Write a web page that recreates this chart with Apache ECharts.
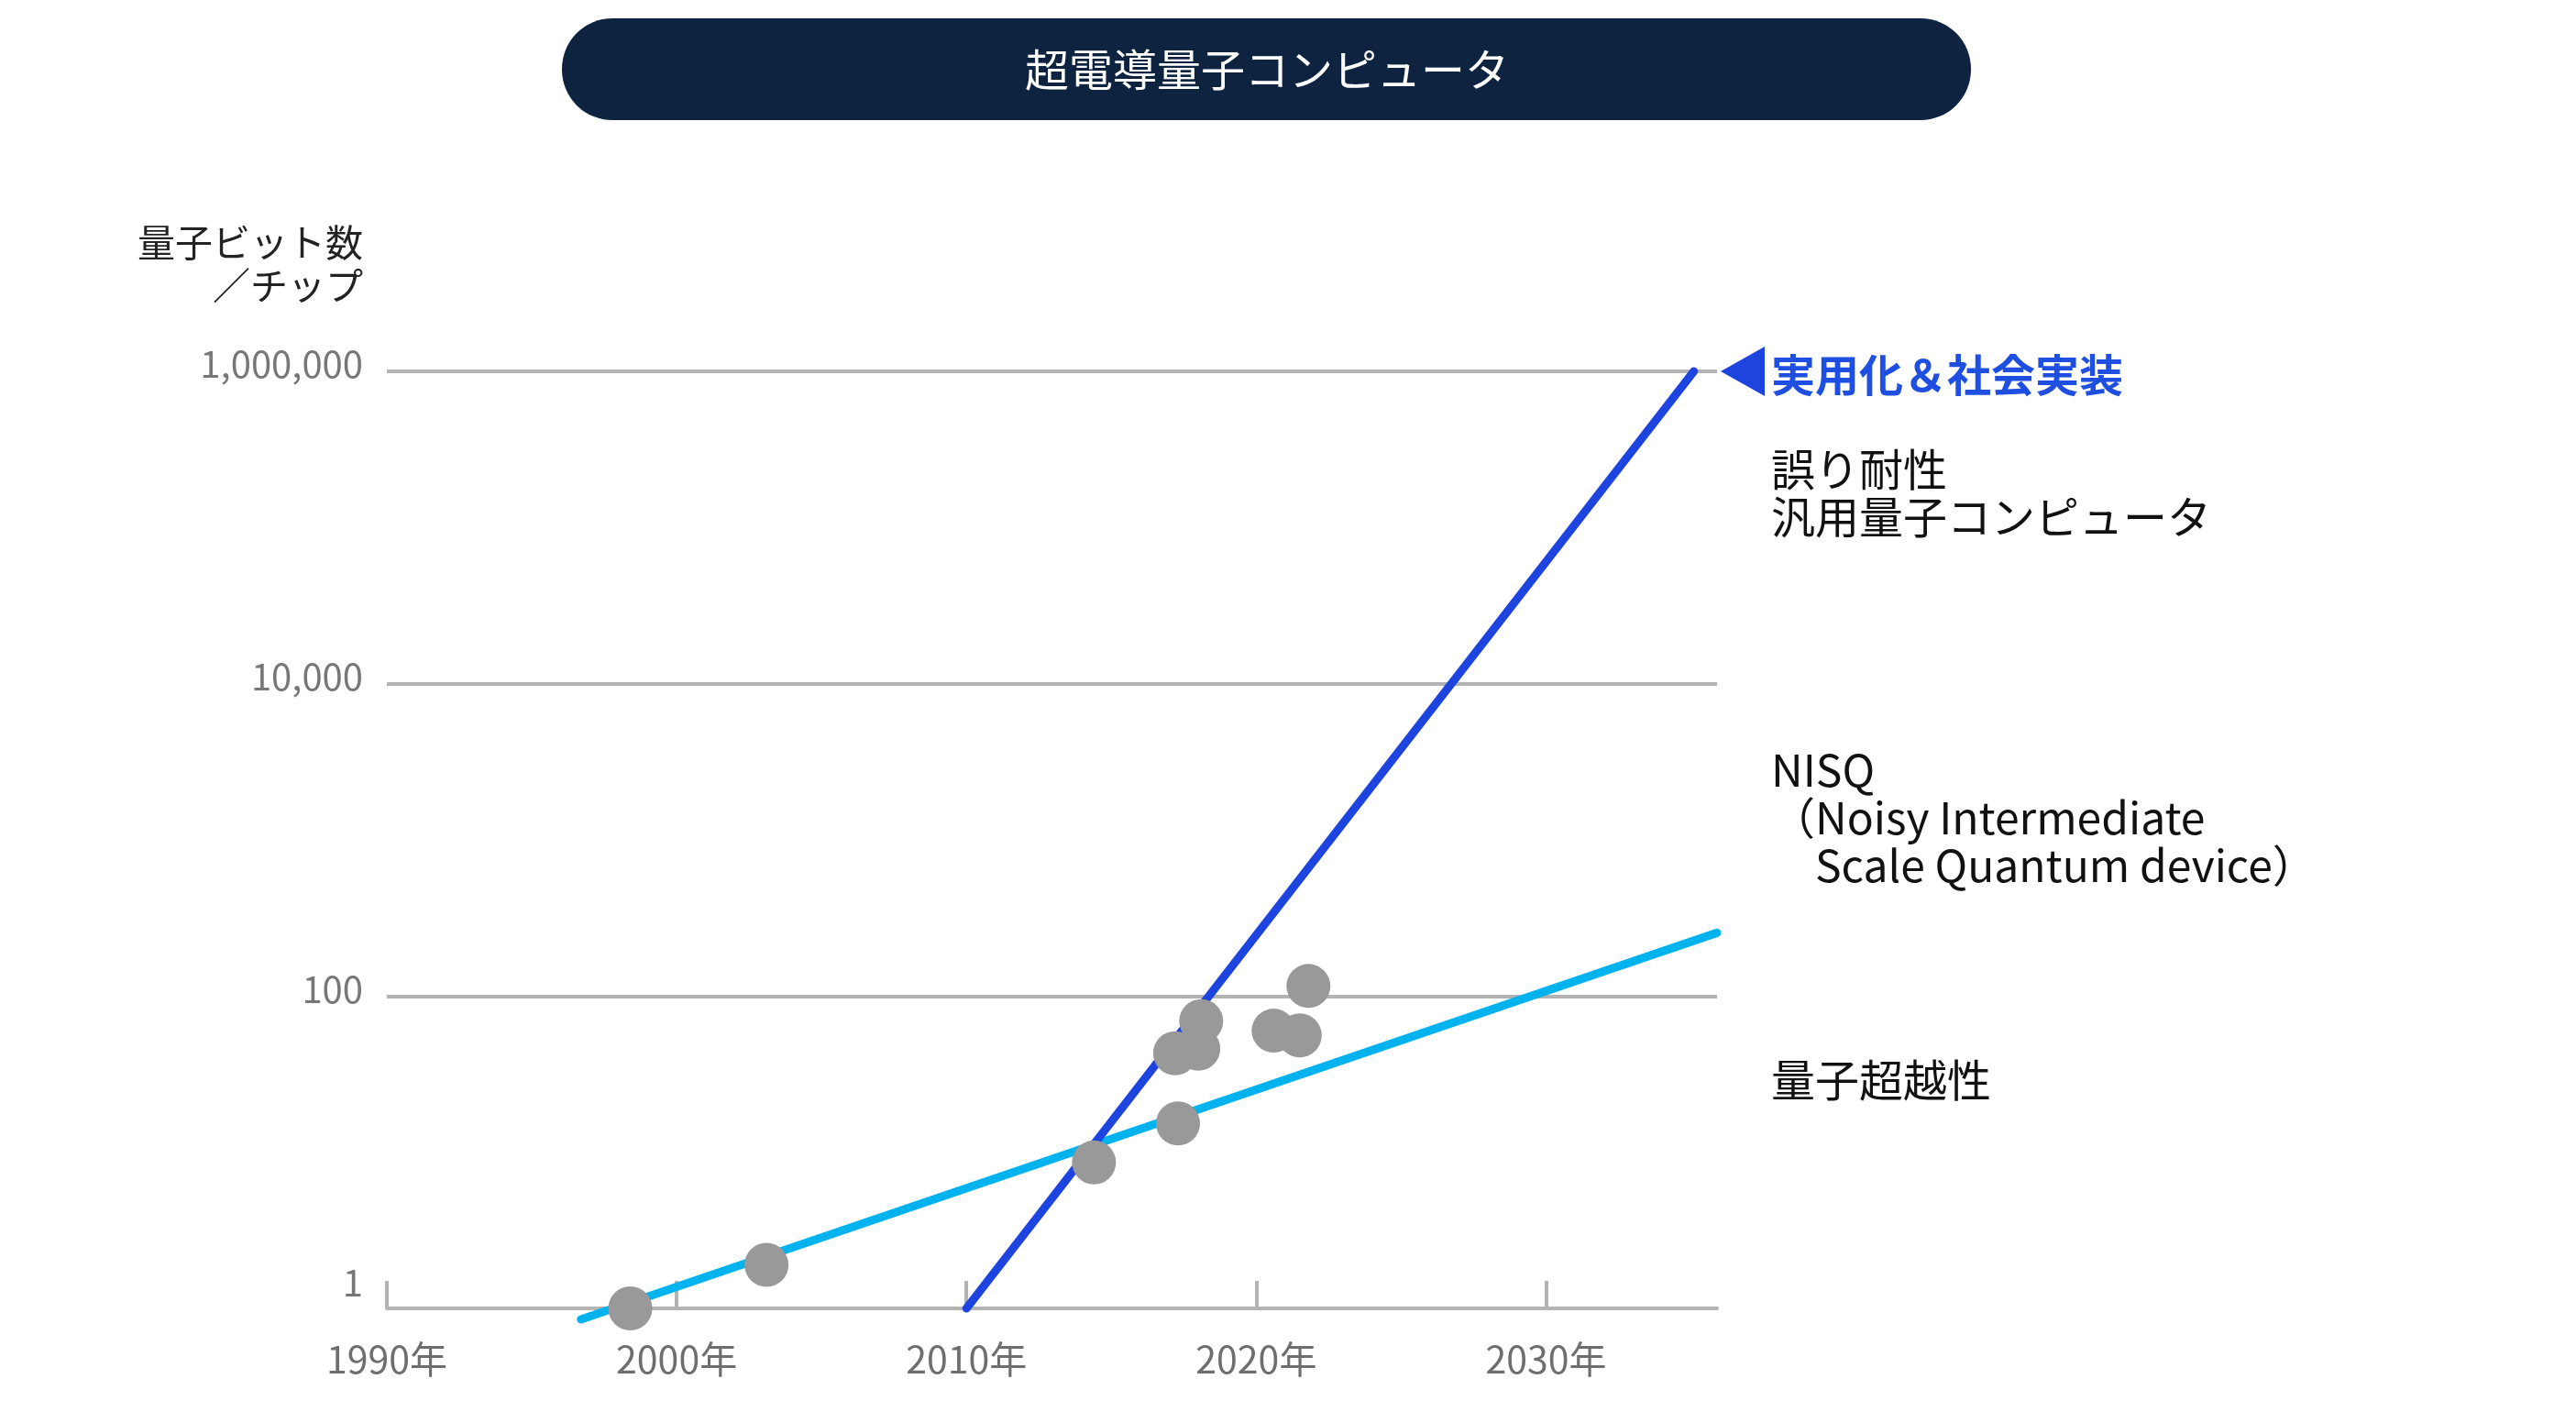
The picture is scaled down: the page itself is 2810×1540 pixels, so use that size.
<!DOCTYPE html>
<html>
<head>
<meta charset="utf-8">
<script src="https://cdn.jsdelivr.net/npm/echarts@6/dist/echarts.min.js"></script>
<style>
html,body{margin:0;padding:0;background:#fff;}
#chart{width:2810px;height:1540px;}
</style>
</head>
<body>
<div id="chart"></div>
<script>
// ---- data ----
const chipYears  = [1998.4, 2003.1, 2014.4, 2017.3, 2017.2, 2018.0, 2018.1, 2020.6, 2021.5, 2021.8];
const chipQubits = [1.0, 1.9, 8.6, 15.3, 43, 46, 69, 60, 56, 116];
const nisqYears  = [1996.7, 2035.9];
const nisqQubits = [0.85, 254];
const ftqcYears  = [2010, 2035.1];
const ftqcQubits = [1, 1000000];
const xTicks = [1990, 2000, 2010, 2020, 2030];
const yTicks = [1, 100, 10000, 1000000];
const xMin = 1990, xMax = 2035.9;

const FONT = '"Noto Sans CJK JP", "Noto Sans", sans-serif';
const GRID = '#b3b3b3';
const BLUE = '#1e44e0';
const CYAN = '#00b3ee';

const chart = echarts.init(document.getElementById('chart'), null, {renderer: 'canvas'});
const pair = (xs, ys) => xs.map((x, i) => [x, ys[i]]);

chart.setOption({
  backgroundColor: '#ffffff',
  animation: false,
  grid: {left: 422, right: 937, top: 405, bottom: 113},
  xAxis: {
    type: 'value', min: xMin, max: xMax, interval: 10,
    axisLine: {show: true, lineStyle: {color: GRID, width: 4}},
    axisTick: {show: true, inside: true, length: 30, customValues: xTicks,
               lineStyle: {color: GRID, width: 4}},
    axisLabel: {customValues: xTicks, formatter: v => v + '年',
                fontSize: 41, color: '#6e6e6e', fontFamily: FONT, margin: 35},
    splitLine: {show: false}
  },
  yAxis: {
    type: 'log', logBase: 10, min: 1, max: 1000000, interval: 2,
    axisLine: {show: false},
    axisTick: {show: false},
    splitLine: {show: true, lineStyle: {color: GRID, width: 4}},
    axisLabel: {
      margin: 26,
      formatter: function (v) {
        const s = Number(v).toLocaleString('en-US');
        return (Math.abs(v - 1) < 1e-9 ? '{low|' : '{std|') + s + '}';
      },
      rich: {
        std: {fontSize: 40, color: '#777777', fontFamily: FONT, padding: [0, 0, 16, 0]},
        low: {fontSize: 40, color: '#777777', fontFamily: FONT, padding: [0, 0, 56, 0]}
      }
    }
  },
  series: [
    {
      type: 'line', name: 'NISQ', data: pair(nisqYears, nisqQubits),
      showSymbol: false, symbol: 'none', clip: false, z: 3,
      lineStyle: {color: CYAN, width: 9, cap: 'round'}
    },
    {
      type: 'line', name: 'FTQC', data: pair(ftqcYears, ftqcQubits),
      showSymbol: false, symbol: 'none', clip: false, z: 4,
      lineStyle: {color: BLUE, width: 9, cap: 'round'},
      markPoint: {
        symbol: 'triangle', symbolRotate: 90, symbolSize: [54, 48], symbolOffset: [28, 0],
        itemStyle: {color: BLUE}, label: {show: false},
        data: [{coord: [xMax, yTicks[yTicks.length - 1]]}]
      }
    },
    {
      type: 'scatter', name: 'chips', data: pair(chipYears, chipQubits),
      symbolSize: 48, clip: false, z: 5,
      itemStyle: {color: '#999999', opacity: 1}
    }
  ],
  graphic: [
    {type: 'rect', shape: {x: 613, y: 20, width: 1537, height: 111, r: 55},
     style: {fill: '#0e2340'}, z: 10},
    {type: 'text', x: 1382, y: 76, z: 11,
     style: {text: '超電導量子コンピュータ', fill: '#ffffff', font: '48px ' + FONT,
             align: 'center', verticalAlign: 'middle'}},
    {type: 'text', x: 396, y: 288, z: 11,
     style: {text: '量子ビット数\n／チップ', fill: '#222222', font: '41px ' + FONT,
             align: 'right', verticalAlign: 'middle', lineHeight: 47}},
    {type: 'text', x: 1932, y: 409, z: 11,
     style: {text: '実用化＆社会実装', fill: '#1f4fe0', font: 'bold 48px ' + FONT,
             align: 'left', verticalAlign: 'middle'}},
    {type: 'text', x: 1932, y: 538, z: 11,
     style: {text: '誤り耐性\n汎用量子コンピュータ', fill: '#111111', font: '48px ' + FONT,
             align: 'left', verticalAlign: 'middle', lineHeight: 52}},
    {type: 'text', x: 1932, y: 892, z: 11,
     style: {text: 'NISQ\n（Noisy Intermediate\n　Scale Quantum device）', fill: '#111111',
             font: '48px ' + FONT, align: 'left', verticalAlign: 'middle', lineHeight: 52}},
    {type: 'text', x: 1932, y: 1178, z: 11,
     style: {text: '量子超越性', fill: '#111111', font: '48px ' + FONT,
             align: 'left', verticalAlign: 'middle'}}
  ]
});
</script>
</body>
</html>
